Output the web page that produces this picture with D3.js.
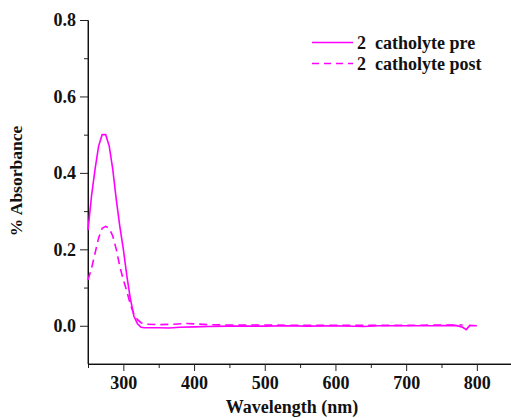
<!DOCTYPE html>
<html>
<head>
<meta charset="utf-8">
<script src="https://cdn.jsdelivr.net/npm/d3@7"></script>
<style>
  body { margin: 0; background: #fff; }
  text { font-family: "Liberation Serif", "Times New Roman", serif; font-weight: bold; }
</style>
</head>
<body>
<div id="chart"></div>
<script>
// wavelength (nm) and absorbance for each run
const wavePre = [250, 255, 260, 265, 270, 275, 280, 285, 290, 295, 300, 305, 310, 315, 320, 325, 330, 350, 365, 380, 400, 420, 450, 500, 530, 560, 600, 640, 660, 700, 740, 770, 780, 785, 790, 800];
const absPre  = [0.25, 0.34, 0.41, 0.47, 0.50, 0.50, 0.47, 0.41, 0.33, 0.26, 0.20, 0.13, 0.07, 0.025, 0.005, -0.004, -0.005, -0.005, -0.006, -0.004, -0.003, -0.002, -0.001, -0.001, 0.0, -0.001, 0.0, -0.002, 0.0, 0.0, 0.0, 0.001, -0.004, -0.01, 0.001, 0.0];
const wavePost = [250, 255, 260, 265, 270, 275, 280, 285, 290, 295, 300, 305, 310, 315, 320, 325, 330, 350, 370, 390, 400, 420, 450, 500, 550, 600, 650, 700, 750, 780];
const absPost  = [0.12, 0.15, 0.19, 0.23, 0.255, 0.26, 0.255, 0.235, 0.20, 0.155, 0.12, 0.09, 0.055, 0.03, 0.016, 0.008, 0.004, 0.003, 0.004, 0.006, 0.005, 0.003, 0.002, 0.002, 0.001, 0.001, 0.001, 0.001, 0.002, 0.002];
const seriesNames = ["2  catholyte pre", "2  catholyte post"];
const xTicks = [300, 400, 500, 600, 700, 800];
const yTicks = [0.0, 0.2, 0.4, 0.6, 0.8];

var width = 511, height = 418;
var margin = { top: 20, right: 0, bottom: 54, left: 88 };

var svg = d3.select("#chart").append("svg").attr("width", width).attr("height", height);

var x = d3.scaleLinear().domain([250, 850]).range([margin.left, margin.left + 600 * 0.707]);
var y = d3.scaleLinear().domain([-0.1, 0.8]).range([height - margin.bottom, margin.top]);

// x axis: minor ticks, then major ticks with labels
var xAx = svg.append("g").attr("transform", "translate(0," + (height - margin.bottom) + ")");
xAx.call(d3.axisBottom(x).tickValues(d3.range(250, 851, 100)).tickSize(4).tickFormat(""));
xAx.call(g => g.select(".domain").remove());
var xAx2 = svg.append("g").attr("transform", "translate(0," + (height - margin.bottom) + ")");
xAx2.call(d3.axisBottom(x).tickValues(xTicks).tickSize(7).tickSizeOuter(0).tickPadding(5).tickFormat(d3.format("d")));
xAx2.selectAll("text").style("font-size", "18px").attr("fill", "#111");
svg.append("line").attr("x1", x(250)).attr("x2", x(850)).attr("y1", y(-0.1)).attr("y2", y(-0.1)).attr("stroke", "#222");

// y axis
var yAx = svg.append("g").attr("transform", "translate(" + margin.left + ",0)");
yAx.call(d3.axisLeft(y).tickValues([0.7, 0.5, 0.3, 0.1]).tickSize(4).tickFormat(""));
yAx.call(g => g.select(".domain").remove());
var yAx2 = svg.append("g").attr("transform", "translate(" + margin.left + ",0)");
yAx2.call(d3.axisLeft(y).tickValues(yTicks).tickSize(8).tickSizeOuter(0).tickPadding(4).tickFormat(d3.format(".1f")));
yAx2.selectAll("text").style("font-size", "18px").attr("fill", "#111");
svg.append("line").attr("x1", x(250)).attr("x2", x(250)).attr("y1", y(0.8)).attr("y2", y(-0.1)).attr("stroke", "#222");
svg.selectAll(".tick line").attr("stroke", "#222");

// labels
svg.append("text").attr("x", 292).attr("y", 413).attr("text-anchor", "middle")
    .style("font-size", "18px").attr("fill", "#111").text("Wavelength (nm)");
svg.append("text").attr("transform", "translate(22,181) rotate(-90)").attr("text-anchor", "middle")
    .style("font-size", "17.5px").attr("fill", "#111").text("% Absorbance");

// lines
var line = d3.line().x(d => x(d[0])).y(d => y(d[1]));
svg.append("path").datum(wavePre.map((w, i) => [w, absPre[i]]))
    .attr("fill", "none").attr("stroke", "#ff00ff").attr("stroke-width", 1.6).attr("d", line);
svg.append("path").datum(wavePost.map((w, i) => [w, absPost[i]]))
    .attr("fill", "none").attr("stroke", "#ff00ff").attr("stroke-width", 1.6)
    .attr("stroke-dasharray", "8,5").attr("d", line);

// legend
var leg = svg.append("g");
[0, 1].forEach(function (i) {
    var ly = 42.5 + i * 21;
    leg.append("line").attr("x1", 312).attr("x2", 353).attr("y1", ly).attr("y2", ly)
        .attr("stroke", "#ff00ff").attr("stroke-width", 1.6)
        .attr("stroke-dasharray", i == 1 ? "7,5" : null);
    leg.append("text").attr("x", 357).attr("y", ly + 6).style("font-size", "18px")
        .attr("fill", "#111").attr("xml:space", "preserve").style("white-space", "pre").text(seriesNames[i]);
});
</script>
</body>
</html>
